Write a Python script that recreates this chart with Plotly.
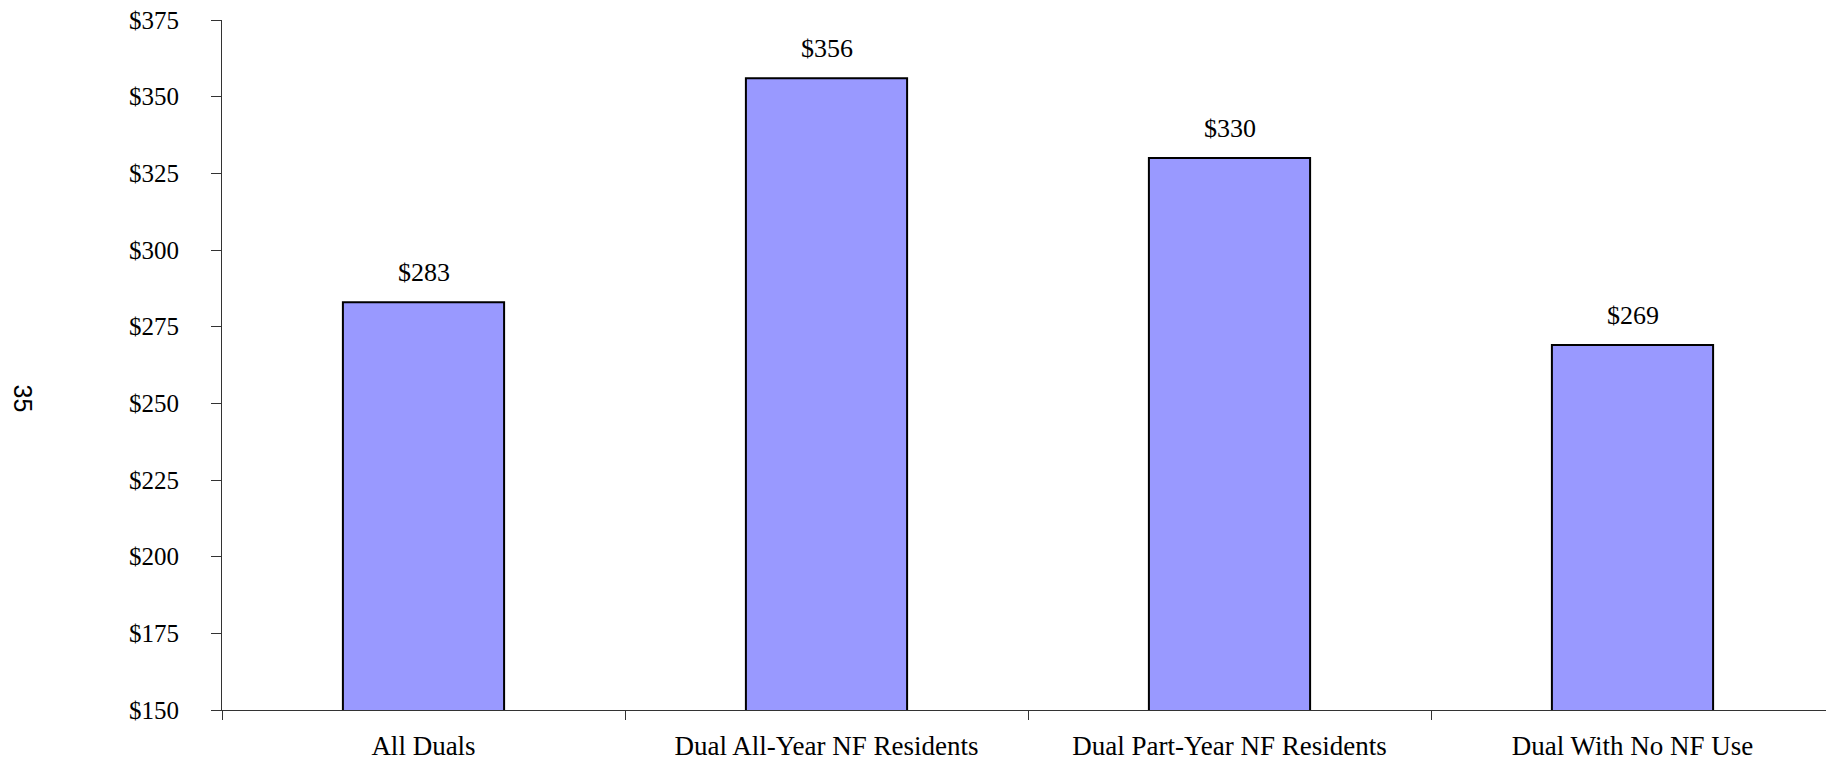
import plotly.graph_objects as go

categories = ["All Duals", "Dual All-Year NF Residents", "Dual Part-Year NF Residents", "Dual With No NF Use"]
values = [283, 356, 330, 269]
value_labels = ["$283", "$356", "$330", "$269"]
y_ticks = [150, 175, 200, 225, 250, 275, 300, 325, 350, 375]
y_tick_labels = ["$" + str(v) for v in y_ticks]

SERIF = "Liberation Serif, Times New Roman, serif"

fig = go.Figure(
    go.Bar(
        x=categories,
        y=values,
        width=0.4,
        marker=dict(color="#9999FF", line=dict(color="black", width=2)),
        showlegend=False,
    )
)

for cat, val, lab in zip(categories, values, value_labels):
    fig.add_annotation(
        x=cat, y=val, text=lab, showarrow=False,
        yanchor="bottom", yshift=13,
        font=dict(family=SERIF, size=26, color="black"),
    )

# page number printed sideways at the left edge
fig.add_annotation(
    text="35", xref="paper", yref="paper", x=-0.1235, y=0.4515,
    xanchor="center", yanchor="middle",
    showarrow=False, textangle=90,
    font=dict(family="Liberation Sans, Arial, sans-serif", size=25, color="black"),
)

fig.update_xaxes(
    showline=True, linecolor="#333", linewidth=1,
    ticks="outside", tickson="boundaries", ticklen=9, tickcolor="#333",
    showgrid=False, ticklabelstandoff=12, automargin=False,
    tickfont=dict(family=SERIF, size=27, color="black"),
)
fig.update_yaxes(
    range=[150, 375], tickvals=y_ticks, ticktext=y_tick_labels,
    showline=True, linecolor="#333", linewidth=1,
    ticks="outside", ticklen=10, tickcolor="#333",
    showgrid=False, zeroline=False, ticklabelstandoff=27,
    ticklabeloverflow="allow", automargin=False,
    tickfont=dict(family=SERIF, size=25, color="black"),
)
fig.update_layout(
    width=1834, height=765,
    margin=dict(l=214, r=8, t=12, b=63),
    plot_bgcolor="white", paper_bgcolor="white",
)

fig.write_html("out.html")
